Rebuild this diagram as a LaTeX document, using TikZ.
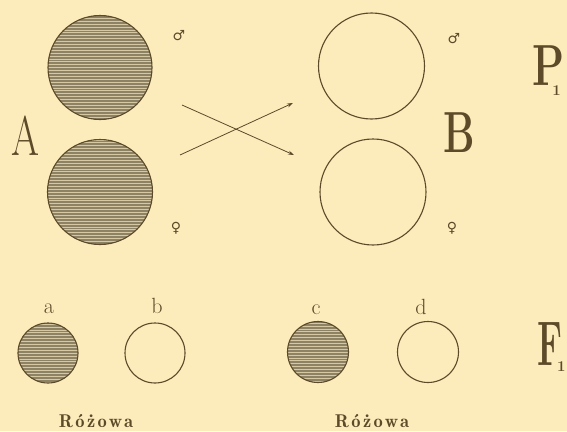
\documentclass[tikz,border=0pt]{standalone}
\usepackage{fontspec}
\usepackage{graphicx}
\usetikzlibrary{arrows.meta}
\newfontfamily\symf{DejaVu Sans}
\newfontfamily\spacedbold[LetterSpace=13]{Latin Modern Roman Demi}
\definecolor{paper}{RGB}{252,236,188}
\definecolor{ink}{RGB}{92,74,40}
\definecolor{hatchfill}{RGB}{142,130,100}
\definecolor{hatchln}{RGB}{214,200,162}
\begin{document}
\begin{tikzpicture}[x=1pt,y=-1pt,
  ball/.style={circle,draw=ink,line width=1.1pt,inner sep=0pt,minimum size=#1},
  hatched/.style={fill=hatchfill,path picture={
     \foreach \k in {-40,...,40}{\draw[hatchln,line width=0.55pt]
       ([shift={(-80pt,\k*2.9pt)}]path picture bounding box.center) -- ++(160pt,0pt);}}},
  inktext/.style={text=ink,inner sep=0pt},
  sym/.style={inktext,font=\symf\fontsize{14}{14}\selectfont},
  lbl/.style={inktext,anchor=base,font=\fontsize{22}{22}\selectfont},
  capword/.style={inktext,anchor=base},
  cross/.style={draw=ink,line width=0.8pt,-{Stealth[length=6pt,width=4pt]}}]
\fill[paper] (0,0) rectangle (567,431);
\useasboundingbox (0,0) rectangle (567,431);
% parents
\node[ball=104pt,hatched] (A1) at (100,67.5) {};
\node[ball=105pt,hatched] (A2) at (100,192) {};
\node[ball=106pt] (B1) at (371.5,66) {};
\node[ball=106pt] (B2) at (373,192) {};
\node[inktext] (Alet) at (25,136) {\fontsize{56}{56}\selectfont\scalebox{0.72}[1]{A}};
\node[inktext] (Blet) at (459,133) {\fontsize{58}{58}\selectfont\bfseries\scalebox{0.68}[1]{B}};
\node[inktext,anchor=base west] (P1) at (532,85) {\fontsize{58}{58}\selectfont\bfseries\scalebox{0.72}[1]{P}\kern-12pt\raisebox{-10pt}{\fontsize{15}{15}\selectfont\bfseries 1}};
\node[sym] (m1) at (179,36) {♂};
\node[sym] (f1) at (176,228) {♀};
\node[sym] (m2) at (454,39) {♂};
\node[sym] (f2) at (452,228) {♀};
% crossing arrows
\coordinate (s1) at (182,105);
\coordinate (e1) at (294,155);
\coordinate (s2) at (180,155);
\coordinate (e2) at (293,103);
\draw[cross] (s1) -- (e1);
\draw[cross] (s2) -- (e2);
% F1
\node[ball=60pt,hatched] (a) at (48,353) {};
\node[ball=60pt] (b) at (155,353) {};
\node[ball=61pt,hatched] (c) at (318,352) {};
\node[ball=61pt] (d) at (428,352) {};
\node[lbl] (la) at (49,313) {a};
\node[lbl] (lb) at (157,313) {b};
\node[lbl] (lc) at (316,314) {c};
\node[lbl] (ld) at (421,314) {d};
\node[inktext,anchor=base west] (F1) at (537,365) {\fontsize{63}{63}\selectfont\bfseries\scalebox{0.56}[1]{F}\kern-5pt\raisebox{-6pt}{\fontsize{15}{15}\selectfont\bfseries 1}};
\node[capword] (r1) at (96,427) {\spacedbold\fontsize{18.5}{18.5}\selectfont Różowa};
\node[capword] (r2) at (372,427) {\spacedbold\fontsize{18.5}{18.5}\selectfont Różowa};
\end{tikzpicture}
\end{document}
